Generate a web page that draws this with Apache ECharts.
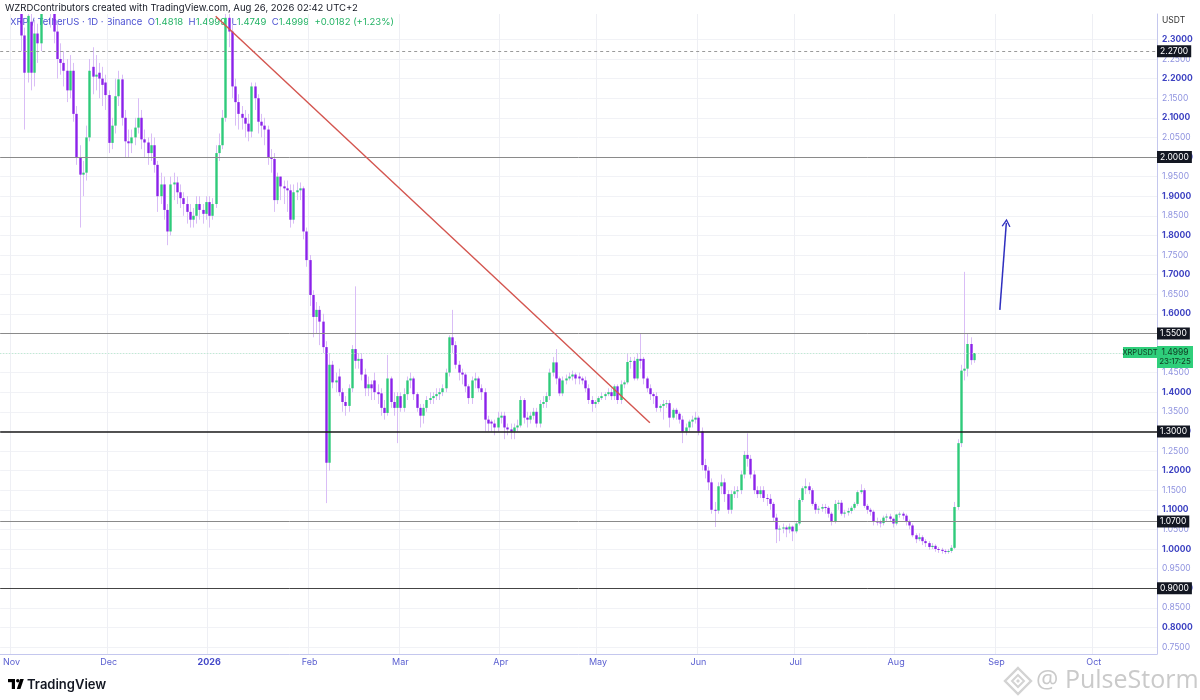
<!DOCTYPE html>
<html><head><meta charset="utf-8">
<script src="https://cdn.jsdelivr.net/npm/echarts@6/dist/echarts.min.js"></script>
<style>html,body{margin:0;padding:0;background:#fff}#c{width:1200px;height:700px}</style>
</head><body><div id="c"></div>
<script>
// ---- data ----
const startDate = [2025, 9, 29];   // first category: 2025-10-29
const dayCount = 357;
const monthNames = ['Jan','Feb','Mar','Apr','May','Jun','Jul','Aug','Sep','Oct','Nov','Dec'];
// daily candles [open, close, low, high]
const candles = [
[2.50,2.53,2.47,2.57],[2.53,2.49,2.46,2.55],[2.49,2.51,2.45,2.54],[2.51,2.47,2.44,2.53],[2.47,2.44,2.39,2.50],
[2.44,2.45,2.37,2.48],[2.45,2.31,2.27,2.47],[2.31,2.215,2.07,2.33],[2.215,2.36,2.19,2.40],[2.345,2.215,2.17,2.38],
[2.215,2.315,2.18,2.35],[2.315,2.29,2.24,2.34],[2.29,2.43,2.27,2.47],[2.43,2.55,2.41,2.60],[2.55,2.46,2.42,2.58],
[2.46,2.38,2.33,2.49],[2.38,2.32,2.29,2.40],[2.32,2.25,2.20,2.34],[2.25,2.24,2.21,2.29],[2.24,2.22,2.18,2.27],
[2.22,2.17,2.14,2.25],[2.17,2.22,2.15,2.26],[2.22,2.11,2.09,2.24],[2.11,2.00,1.98,2.13],[2.00,1.955,1.82,2.03],
[1.955,1.96,1.90,1.99],[1.96,2.05,1.94,2.08],[2.05,2.22,2.04,2.25],[2.23,2.205,2.16,2.28],[2.205,2.21,2.17,2.26],
[2.215,2.20,2.15,2.24],[2.20,2.184,2.13,2.23],[2.19,2.158,2.12,2.21],[2.158,2.036,2.01,2.17],[2.036,2.08,2.02,2.10],
[2.08,2.155,2.06,2.20],[2.155,2.198,2.13,2.22],[2.198,2.10,2.08,2.21],[2.10,2.04,2.00,2.12],[2.04,2.035,2.00,2.07],
[2.035,2.05,2.01,2.07],[2.05,2.075,2.03,2.10],[2.075,2.10,2.06,2.15],[2.10,2.045,2.02,2.12],[2.045,2.037,2.00,2.07],
[2.037,2.01,1.98,2.05],[2.01,2.03,1.99,2.06],[2.03,1.98,1.96,2.05],[1.98,1.90,1.86,1.99],[1.90,1.93,1.88,1.96],
[1.93,1.865,1.84,1.95],[1.865,1.81,1.775,1.88],[1.81,1.93,1.80,1.95],[1.93,1.935,1.89,1.96],[1.935,1.91,1.88,1.95],
[1.91,1.895,1.87,1.93],[1.895,1.88,1.85,1.91],[1.88,1.86,1.83,1.90],[1.86,1.84,1.82,1.88],[1.84,1.85,1.82,1.87],
[1.85,1.88,1.83,1.90],[1.88,1.865,1.84,1.90],[1.865,1.855,1.83,1.88],[1.855,1.885,1.84,1.90],[1.885,1.85,1.82,1.90],
[1.85,1.88,1.84,1.895],[1.88,2.01,1.87,2.03],[2.01,2.03,1.99,2.06],[2.03,2.10,2.02,2.12],[2.10,2.355,2.09,2.42],
[2.355,2.32,2.28,2.40],[2.32,2.18,2.15,2.34],[2.18,2.14,2.08,2.20],[2.14,2.11,2.07,2.16],[2.11,2.10,2.07,2.13],
[2.10,2.085,2.05,2.12],[2.085,2.065,2.04,2.11],[2.065,2.18,2.05,2.19],[2.18,2.15,2.12,2.19],[2.15,2.09,2.06,2.16],
[2.09,2.08,2.05,2.11],[2.08,2.07,2.03,2.10],[2.07,2.00,1.98,2.08],[2.00,1.995,1.96,2.02],[1.995,1.89,1.86,2.01],
[1.89,1.95,1.88,1.96],[1.95,1.925,1.89,1.95],[1.925,1.92,1.88,1.94],[1.92,1.915,1.86,1.94],[1.915,1.84,1.82,1.93],
[1.84,1.91,1.83,1.93],[1.91,1.915,1.89,1.935],[1.915,1.92,1.89,1.935],[1.92,1.81,1.79,1.925],[1.81,1.737,1.72,1.82],
[1.737,1.648,1.62,1.75],[1.648,1.592,1.54,1.66],[1.592,1.61,1.55,1.63],[1.61,1.58,1.52,1.62],[1.58,1.515,1.50,1.60],
[1.515,1.22,1.117,1.53],[1.22,1.47,1.20,1.50],[1.47,1.425,1.41,1.48],[1.425,1.43,1.40,1.45],[1.44,1.40,1.39,1.46],
[1.40,1.375,1.35,1.41],[1.375,1.365,1.34,1.39],[1.365,1.41,1.35,1.42],[1.41,1.51,1.40,1.52],[1.51,1.48,1.46,1.67],
[1.48,1.485,1.46,1.50],[1.485,1.445,1.43,1.50],[1.445,1.41,1.39,1.46],[1.41,1.42,1.39,1.44],[1.42,1.41,1.38,1.43],
[1.43,1.40,1.38,1.45],[1.40,1.395,1.37,1.42],[1.397,1.36,1.34,1.41],[1.36,1.347,1.33,1.38],[1.347,1.435,1.34,1.495],
[1.435,1.375,1.36,1.44],[1.375,1.36,1.34,1.40],[1.36,1.39,1.27,1.40],[1.39,1.36,1.35,1.40],[1.36,1.395,1.35,1.41],
[1.395,1.43,1.38,1.44],[1.43,1.435,1.41,1.45],[1.435,1.395,1.38,1.44],[1.395,1.36,1.35,1.40],[1.36,1.34,1.31,1.37],
[1.34,1.36,1.32,1.37],[1.36,1.38,1.35,1.39],[1.38,1.385,1.37,1.40],[1.385,1.39,1.37,1.40],[1.39,1.395,1.38,1.41],
[1.395,1.40,1.38,1.41],[1.40,1.41,1.39,1.42],[1.41,1.45,1.40,1.46],[1.45,1.54,1.44,1.545],[1.54,1.52,1.50,1.61],
[1.52,1.47,1.46,1.53],[1.47,1.45,1.43,1.48],[1.45,1.445,1.42,1.46],[1.445,1.415,1.40,1.45],[1.415,1.385,1.37,1.42],
[1.385,1.43,1.37,1.44],[1.43,1.435,1.41,1.45],[1.435,1.41,1.40,1.44],[1.41,1.40,1.38,1.42],[1.40,1.33,1.30,1.41],
[1.33,1.32,1.30,1.34],[1.325,1.32,1.30,1.33],[1.32,1.31,1.29,1.33],[1.31,1.335,1.30,1.35],[1.335,1.34,1.32,1.35],
[1.34,1.31,1.28,1.35],[1.31,1.305,1.29,1.32],[1.305,1.30,1.28,1.32],[1.30,1.31,1.28,1.32],[1.31,1.315,1.30,1.33],
[1.315,1.38,1.31,1.39],[1.38,1.335,1.32,1.385],[1.335,1.33,1.31,1.35],[1.33,1.34,1.32,1.35],[1.34,1.35,1.33,1.36],
[1.35,1.32,1.31,1.36],[1.32,1.37,1.31,1.38],[1.37,1.375,1.36,1.39],[1.375,1.39,1.36,1.40],[1.39,1.45,1.38,1.46],
[1.45,1.476,1.44,1.49],[1.476,1.435,1.42,1.51],[1.435,1.397,1.39,1.44],[1.397,1.43,1.39,1.44],[1.43,1.435,1.42,1.445],
[1.435,1.44,1.43,1.45],[1.44,1.445,1.43,1.455],[1.445,1.435,1.42,1.45],[1.44,1.435,1.42,1.45],[1.435,1.43,1.42,1.44],
[1.43,1.41,1.40,1.44],[1.41,1.38,1.37,1.42],[1.38,1.37,1.35,1.39],[1.37,1.375,1.36,1.38],[1.375,1.385,1.37,1.39],
[1.385,1.39,1.38,1.40],[1.39,1.395,1.38,1.40],[1.395,1.40,1.39,1.41],[1.40,1.39,1.38,1.41],[1.39,1.415,1.38,1.42],
[1.415,1.38,1.37,1.42],[1.38,1.42,1.37,1.43],[1.42,1.425,1.41,1.43],[1.425,1.477,1.42,1.50],[1.477,1.48,1.46,1.49],
[1.48,1.435,1.43,1.49],[1.435,1.485,1.43,1.50],[1.485,1.48,1.46,1.55],[1.485,1.435,1.42,1.49],[1.435,1.41,1.40,1.44],
[1.41,1.395,1.38,1.42],[1.395,1.39,1.37,1.40],[1.39,1.36,1.35,1.40],[1.36,1.365,1.35,1.37],[1.365,1.37,1.33,1.38],
[1.37,1.372,1.36,1.38],[1.372,1.335,1.31,1.38],[1.335,1.355,1.33,1.36],[1.355,1.345,1.33,1.36],[1.345,1.33,1.32,1.35],
[1.33,1.30,1.27,1.34],[1.30,1.31,1.29,1.32],[1.31,1.325,1.30,1.33],[1.325,1.33,1.31,1.34],[1.33,1.335,1.32,1.35],
[1.335,1.30,1.29,1.34],[1.30,1.214,1.20,1.31],[1.214,1.20,1.18,1.23],[1.20,1.17,1.15,1.21],[1.17,1.10,1.09,1.18],
[1.10,1.098,1.056,1.12],[1.098,1.16,1.09,1.17],[1.16,1.17,1.14,1.19],[1.17,1.14,1.12,1.18],[1.14,1.10,1.09,1.15],
[1.10,1.14,1.09,1.15],[1.14,1.147,1.13,1.16],[1.147,1.15,1.13,1.16],[1.15,1.19,1.14,1.20],[1.19,1.24,1.18,1.25],
[1.24,1.23,1.21,1.295],[1.23,1.19,1.18,1.24],[1.19,1.15,1.14,1.20],[1.15,1.14,1.13,1.16],[1.14,1.15,1.13,1.16],
[1.15,1.13,1.12,1.16],[1.13,1.128,1.11,1.14],[1.128,1.115,1.10,1.14],[1.115,1.08,1.07,1.12],[1.08,1.05,1.015,1.09],
[1.05,1.052,1.02,1.06],[1.052,1.055,1.04,1.065],[1.055,1.05,1.03,1.06],[1.05,1.057,1.04,1.065],[1.057,1.045,1.02,1.06],
[1.045,1.065,1.04,1.07],[1.065,1.125,1.06,1.13],[1.125,1.155,1.12,1.16],[1.155,1.16,1.14,1.18],[1.16,1.15,1.14,1.17],
[1.15,1.115,1.11,1.155],[1.115,1.10,1.09,1.12],[1.10,1.103,1.09,1.11],[1.103,1.107,1.095,1.115],[1.107,1.105,1.09,1.115],
[1.105,1.09,1.08,1.11],[1.09,1.07,1.06,1.095],[1.07,1.115,1.065,1.125],[1.115,1.118,1.10,1.125],[1.118,1.09,1.085,1.125],
[1.09,1.093,1.08,1.10],[1.093,1.097,1.085,1.105],[1.097,1.105,1.09,1.11],[1.105,1.115,1.10,1.12],[1.115,1.145,1.11,1.15],
[1.145,1.15,1.14,1.165],[1.15,1.11,1.105,1.155],[1.11,1.10,1.09,1.115],[1.10,1.095,1.085,1.105],[1.095,1.07,1.06,1.10],
[1.07,1.068,1.06,1.08],[1.068,1.066,1.055,1.075],[1.066,1.08,1.06,1.085],[1.08,1.083,1.07,1.09],[1.083,1.077,1.07,1.09],
[1.077,1.065,1.055,1.08],[1.065,1.088,1.06,1.09],[1.088,1.09,1.08,1.095],[1.09,1.085,1.075,1.095],[1.085,1.07,1.06,1.09],
[1.07,1.06,1.05,1.075],[1.06,1.035,1.03,1.065],[1.035,1.025,1.015,1.04],[1.025,1.03,1.02,1.04],[1.03,1.02,1.01,1.035],
[1.02,1.015,1.005,1.025],[1.015,1.005,0.998,1.02],[1.005,1.008,1.0,1.015],[1.008,1.0,0.993,1.012],[1.0,0.998,0.99,1.005],
[0.998,0.995,0.988,1.003],[0.995,0.993,0.987,1.0],[0.993,0.995,0.988,1.0],[0.995,1.003,0.99,1.01],[1.003,1.107,1.0,1.12],
[1.107,1.27,1.10,1.28],[1.27,1.455,1.26,1.47],[1.455,1.46,1.43,1.707],[1.46,1.523,1.44,1.55],[1.523,1.4818,1.47,1.54],
[1.4818,1.4999,1.4749,1.4999]
];
const priceTicks = [0.75,0.80,0.85,0.90,0.95,1.00,1.05,1.10,1.15,1.20,1.25,1.30,1.35,1.40,1.45,1.50,1.55,1.60,1.65,1.70,1.75,1.80,1.85,1.90,1.95,2.00,2.05,2.10,2.15,2.20,2.25,2.30];
const levelPrices = [2.27, 2.00, 1.55, 1.30, 1.07, 0.90];
const lastPrice = 1.4999;
const lastTimer = '23:17:25';
const trendPoints = [[66, 2.359], [200, 1.322]];   // [day index, price]
const arrowPoints = [[308, 1.61], [310, 1.832]];

// ---- build ----
const dates = [];
{
  let t = Date.UTC(startDate[0], startDate[1], startDate[2]);
  for (let i = 0; i < dayCount; i++) { dates.push(new Date(t).toISOString().slice(0, 10)); t += 86400000; }
}
const UP = '#2fcb7a', DOWN = '#8b22ea', WICK = '#d9bdf6';
const seriesData = candles.map((c, i) => [i, c[0], c[1], c[2], c[3]]);

function renderItem(params, api) {
  const i = api.value(0), o = api.value(1), c = api.value(2), l = api.value(3), h = api.value(4);
  const pO = api.coord([i, o]), pC = api.coord([i, c]), pL = api.coord([i, l]), pH = api.coord([i, h]);
  const x = Math.round(pO[0]) + 0.5;
  const top = Math.min(pO[1], pC[1]), bot = Math.max(pO[1], pC[1]);
  const bw = 2.4;
  return { type: 'group', children: [
    { type: 'line', shape: { x1: x, y1: pH[1], x2: x, y2: pL[1] }, style: { stroke: WICK, lineWidth: 1 } },
    { type: 'rect', shape: { x: x - bw / 2, y: top, width: bw, height: Math.max(bot - top, 1) }, style: { fill: c >= o ? UP : DOWN } }
  ]};
}

const levelStyle = [
  { color: '#9a9a9a', width: 1, type: [3, 3] },
  { color: '#8a8a8a', width: 1, type: 'solid' },
  { color: '#8a8a8a', width: 1, type: 'solid' },
  { color: '#1a1a1a', width: 1.6, type: 'solid' },
  { color: '#8a8a8a', width: 1, type: 'solid' },
  { color: '#444444', width: 1, type: 'solid' }
];
const FONT = 'Inter, "Noto Sans", sans-serif';
const badgeLabel = { show: true, position: 'end', distance: 0, backgroundColor: '#131722', color: '#ffffff',
  padding: [2, 3, 1, 3], fontSize: 8.5, fontFamily: FONT, formatter: p => Number(p.value).toFixed(4) };

const markData = levelPrices.map((p, k) => ({ yAxis: p, lineStyle: levelStyle[k], label: badgeLabel }));
markData.push({ yAxis: lastPrice, lineStyle: { color: '#b5ebcb', width: 1, type: [1, 2] }, label: { show: false } });
markData.push([
  { coord: [dates[trendPoints[0][0]], trendPoints[0][1]], symbol: 'none', lineStyle: { color: '#d4554f', width: 1.4, type: 'solid' }, label: { show: false } },
  { coord: [dates[trendPoints[1][0]], trendPoints[1][1]], symbol: 'none' }
]);
markData.push([
  { coord: [dates[arrowPoints[0][0]], arrowPoints[0][1]], symbol: 'none', lineStyle: { color: '#2f2fbf', width: 1.5, type: 'solid' }, label: { show: false } },
  { coord: [dates[arrowPoints[1][0]], arrowPoints[1][1]], symbol: 'path://M0,10 L5,0 L10,10 L8.6,10.6 L5,3.2 L1.4,10.6 Z', symbolSize: [9, 8] }
]);

const chart = echarts.init(document.getElementById('c'), null, { renderer: 'canvas' });

const baseGraphic = [
  { type: 'text', id: 'hdr', x: 5, y: 8, z: 0, style: { text: 'WZRDContributors created with TradingView.com, Aug 26, 2026 02:42 UTC+2', font: '9.5px ' + FONT, fill: '#131722', textVerticalAlign: 'middle' } },
  { type: 'text', id: 'leg', x: 10, y: 22, z: 0, style: {
      text: '{b|XRP / TetherUS · 1D · Binance}  {b|O}{g|1.4818}  {b|H}{g|1.4999}  {b|L}{g|1.4749}  {b|C}{g|1.4999}  {g|+0.0182 (+1.23%)}',
      font: '9.5px ' + FONT, textVerticalAlign: 'middle',
      rich: { b: { fill: '#4b50d2', fontSize: 9.5, fontFamily: FONT }, g: { fill: '#24b365', fontSize: 9.5, fontFamily: FONT } } } },
  { type: 'text', id: 'usdt', x: 1162, y: 20, style: { text: 'USDT', font: '8.5px ' + FONT, fill: '#333', textVerticalAlign: 'middle' } },
  // TradingView logo
  { type: 'group', id: 'tvlogo', x: 8, y: 679, children: [
      { type: 'rect', shape: { x: 0, y: 0, width: 7, height: 3.2 }, style: { fill: '#000' } },
      { type: 'rect', shape: { x: 3.8, y: 0, width: 3.2, height: 10 }, style: { fill: '#000' } },
      { type: 'circle', shape: { cx: 9.8, cy: 1.8, r: 1.8 }, style: { fill: '#000' } },
      { type: 'polygon', shape: { points: [[12.2, 0], [15.8, 0], [12.4, 10], [8.8, 10]] }, style: { fill: '#000' } }
  ] },
  { type: 'text', id: 'tvtext', x: 27, y: 685, style: { text: 'TradingView', font: '600 13px ' + FONT, fill: '#131722', textVerticalAlign: 'middle' } },
  // watermark
  { type: 'group', id: 'wmicon', x: 1018, y: 681, children: [
      { type: 'polygon', shape: { points: [[0, -13], [13, 0], [0, 13], [-13, 0]] }, style: { fill: 'none', stroke: '#d3d3d3', lineWidth: 2.4 } },
      { type: 'polygon', shape: { points: [[0, -6], [6, 0], [0, 6], [-6, 0]] }, style: { fill: 'none', stroke: '#d3d3d3', lineWidth: 2 } },
      { type: 'polygon', shape: { points: [[0, -2], [2, 0], [0, 2], [-2, 0]] }, style: { fill: '#d3d3d3' } }
  ] },
  { type: 'text', id: 'wmtext', x: 1036, y: 681, style: { text: '@ PulseStorm', font: '25px "Open Sans", sans-serif', fill: '#cacaca', textVerticalAlign: 'middle' } }
];

chart.setOption({
  animation: false,
  backgroundColor: '#ffffff',
  grid: { left: -3.225, right: 43, top: 14, bottom: 46 },
  xAxis: {
    type: 'category', data: dates, boundaryGap: true,
    axisLine: { show: true, lineStyle: { color: '#c4c7ee' } },
    axisTick: { show: false },
    axisLabel: {
      interval: (i, v) => v.endsWith('-01'),
      formatter: v => { const m = +v.slice(5, 7); return m === 1 ? '{y|' + v.slice(0, 4) + '}' : monthNames[m - 1]; },
      color: '#5a5fd0', fontSize: 9, fontFamily: FONT, margin: 4,
      rich: { y: { fontWeight: 'bold', color: '#4449c9', fontSize: 9, fontFamily: FONT } }
    },
    splitLine: { show: true, interval: (i, v) => v.endsWith('-01'), lineStyle: { color: '#eeeff4', width: 1 } }
  },
  yAxis: {
    type: 'value', position: 'right', min: 0.7321, max: 2.3648,
    axisLine: { show: true, lineStyle: { color: '#c4c7ee' } },
    axisTick: { show: false, customValues: priceTicks },
    axisLabel: {
      customValues: priceTicks, margin: 5, fontFamily: FONT,
      formatter: v => (Math.round(v * 100) % 10 === 0 ? '{a|' : '{b|') + v.toFixed(4) + '}',
      rich: { a: { color: '#3d42c2', fontWeight: 'bold', fontSize: 8.5, fontFamily: FONT },
              b: { color: '#8f93df', fontSize: 8.5, fontFamily: FONT } }
    },
    splitLine: { show: true, lineStyle: { color: '#f1f2f6', width: 1 } }
  },
  series: [
    { type: 'custom', name: 'XRPUSDT', renderItem: renderItem, data: seriesData, clip: true,
      encode: { x: 0, y: [1, 2, 3, 4] }, z: 3 },
    { type: 'line', data: [], silent: true, z: 4,
      markLine: { silent: true, symbol: 'none', animation: false, data: markData } }
  ],
  graphic: baseGraphic
});

// last-price badges positioned through the y axis scale
const yLast = chart.convertToPixel({ yAxisIndex: 0 }, lastPrice);
chart.setOption({ graphic: baseGraphic.concat([
  { type: 'group', id: 'symbadge', x: 1123, y: yLast - 6, zlevel: 1, children: [
      { type: 'rect', zlevel: 1, z: 100, shape: { x: 0, y: 0, width: 34, height: 11 }, style: { fill: '#2fcf7b' } },
      { type: 'text', zlevel: 1, z: 101, x: 17, y: 5.8, style: { text: 'XRPUSDT', font: '7.5px ' + FONT, fill: '#0f3a22', textAlign: 'center', textVerticalAlign: 'middle' } }
  ] },
  { type: 'group', id: 'pxbadge', x: 1157, y: yLast - 7, zlevel: 1, children: [
      { type: 'rect', zlevel: 1, z: 100, shape: { x: 0, y: 0, width: 36, height: 22 }, style: { fill: '#2fcf7b' } },
      { type: 'text', zlevel: 1, z: 101, x: 18, y: 6.5, style: { text: lastPrice.toFixed(4), font: '8.5px ' + FONT, fill: '#0f3a22', textAlign: 'center', textVerticalAlign: 'middle' } },
      { type: 'text', zlevel: 1, z: 101, x: 18, y: 16, style: { text: lastTimer, font: '8px ' + FONT, fill: '#0f3a22', textAlign: 'center', textVerticalAlign: 'middle' } }
  ] }
]) });
</script></body></html>
